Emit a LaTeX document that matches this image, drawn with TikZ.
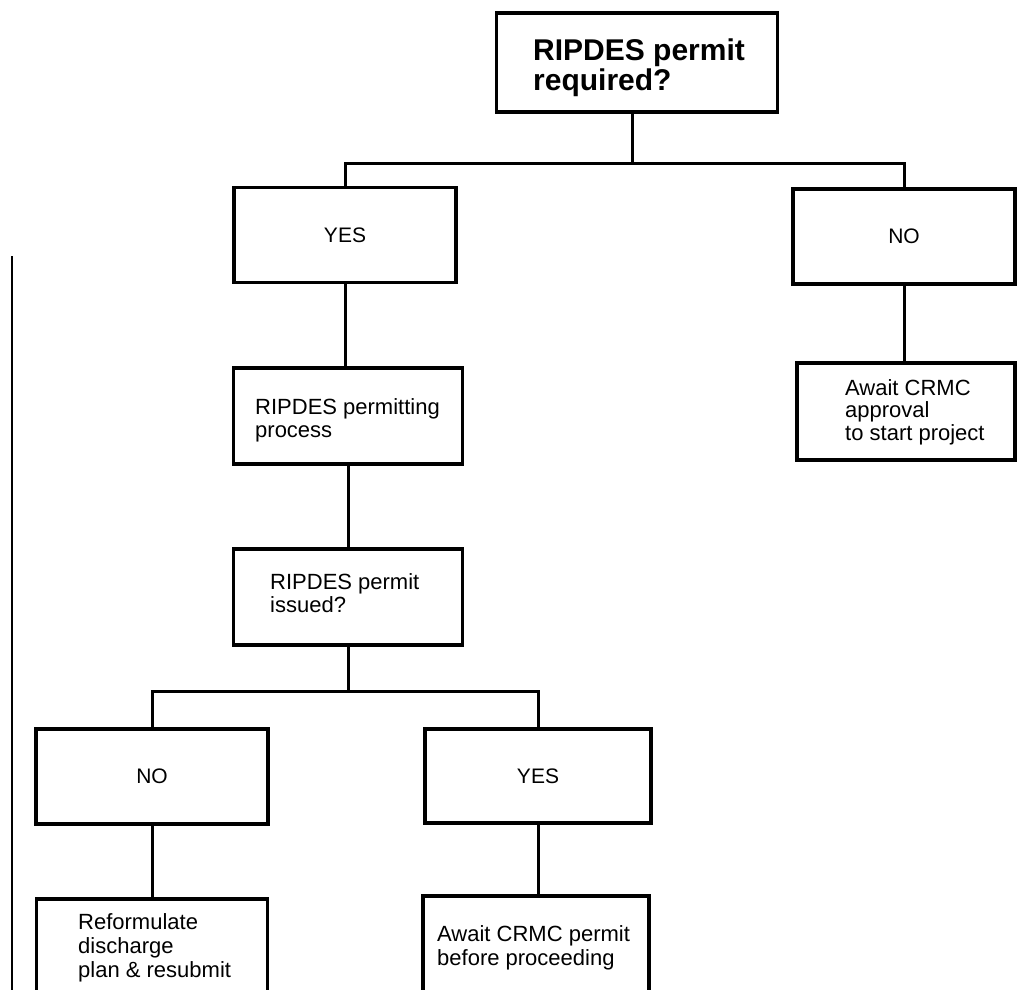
\documentclass[tikz,border=0pt]{standalone}
\usepackage{fontspec}
\setmainfont{Liberation Sans}
\tikzset{box/.style={draw,line width=3.4pt,inner sep=0pt,font=\fontsize{21}{23}\selectfont}}
\tikzset{edge/.style={line width=3pt}}
\tikzset{txt/.style={font=\fontsize{22}{22.5}\selectfont,align=left,inner sep=0pt,anchor=base west}}
\tikzset{wide/.style={font=\fontsize{22}{24}\selectfont}}
\tikzset{big/.style={font=\bfseries\fontsize{30}{30}\selectfont}}
\begin{document}
\begin{tikzpicture}[x=1pt,y=-1pt]
\useasboundingbox (0,0) rectangle (1017,990);
\clip (0,0) rectangle (1017,990);

\node [box,minimum width=281,minimum height=99] (q) at (637,62.5) {};
\node [txt,big] (qt) at (533,90) {RIPDES permit\\required?};

\node [box,minimum width=222,minimum height=95] (yes) at (345,235) {YES};
\node [box,minimum width=222,minimum height=95] (no) at (904,236.5) {NO};

\node [box,minimum width=229,minimum height=96] (proc) at (348,416) {};
\node [txt] (proct) at (255,437) {RIPDES permitting\\process};
\node [box,minimum width=229,minimum height=96] (iss) at (348,597) {};
\node [txt] (isst) at (270,612) {RIPDES permit\\issued?};

\node [box,minimum width=218,minimum height=97] (appr) at (906,411.5) {};
\node [txt] (apprt) at (845,440) {Await CRMC\\approval\\to start project};

\node [box,minimum width=232,minimum height=95] (no2) at (152,776.5) {NO};
\node [box,minimum width=226,minimum height=94] (yes2) at (538,776) {YES};

\node [box,minimum width=231,minimum height=130] (ref) at (152,964) {};
\node [txt,wide] (reft) at (78,977) {Reformulate\\discharge\\plan \& resubmit};
\node [box,minimum width=226,minimum height=130] (wait) at (536,961) {};
\node [txt,wide] (waitt) at (437,965) {Await CRMC permit\\before proceeding};

\coordinate (j1) at (632,163);
\coordinate (j2) at (348,691);

\draw [edge] (q.south -| j1) -- (j1);
\draw [edge] (yes.north) |- (j1) -| (no.north);
\draw [edge] (no.south) -- (no.south |- appr.north);
\draw [edge] (yes.south) -- (yes.south |- proc.north);
\draw [edge] (proc.south) -- (iss.north);
\draw [edge] (iss.south) -- (j2);
\draw [edge] (no2.north) |- (j2) -| (yes2.north);
\draw [edge] (no2.south) -- (no2.south |- ref.north);
\draw [edge] (yes2.south) -- (yes2.south |- wait.north);

\draw [line width=2.2pt] (12,256) -- (12,995);
\end{tikzpicture}
\end{document}
